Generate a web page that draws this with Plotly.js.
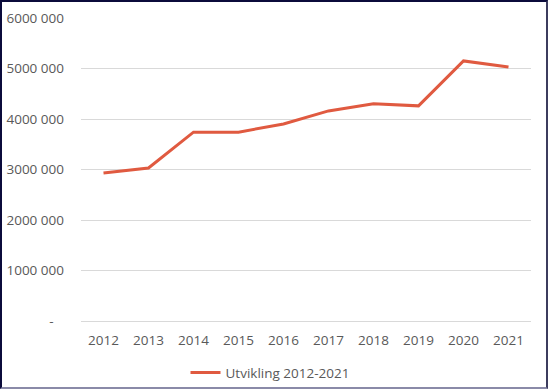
<!DOCTYPE html>
<html>
<head>
<meta charset="utf-8">
<script src="https://cdn.plot.ly/plotly-3.0.1.min.js"></script>
<style>
html,body{margin:0;padding:0;background:#fff;}
#chart{position:absolute;left:0;top:0;width:548px;height:389px;}
#frame{position:absolute;left:0;top:0;width:548px;height:389px;box-sizing:border-box;pointer-events:none;z-index:10;
border-top:2px solid #0b0b3b;border-left:2px solid #0b0b3b;border-right:2px solid #3c3c5e;border-bottom:2px solid #8a8aa8;}
</style>
</head>
<body>
<div id="chart"></div>
<div id="frame"></div>
<script>
const years = ["2012","2013","2014","2015","2016","2017","2018","2019","2020","2021"];
const values = [2930000,3030000,3740000,3740000,3900000,4160000,4300000,4260000,5150000,5030000];
const seriesName = "Utvikling 2012-2021";
const yTickVals = [0,1000000,2000000,3000000,4000000,5000000,6000000];
const yTickText = ["-\u00a0\u00a0\u00a0","1000 000","2000 000","3000 000","4000 000","5000 000","6000 000"];

const trace = {
  x: years, y: values, type: "scatter", mode: "lines", name: seriesName,
  line: {color: "#e05a40", width: 3}
};
const layout = {
  width: 548, height: 389,
  margin: {l: 81, r: 17, t: 18, b: 68, autoexpand: false},
  paper_bgcolor: "#ffffff", plot_bgcolor: "#ffffff",
  font: {family: "Open Sans, Liberation Sans, sans-serif", size: 13.5, color: "#595959"},
  showlegend: true,
  legend: {orientation: "h", x: 0.42, xanchor: "center", yref: "container", y: 0.082, yanchor: "top",
    font: {size: 13.5, color: "#595959"}},
  xaxis: {type: "category", range: [-0.5, 9.5], showgrid: false, zeroline: false, automargin: false,
    showline: false, ticks: "", ticklabelstandoff: 9, tickfont: {size: 13.5, color: "#595959"}, fixedrange: true},
  yaxis: {range: [0, 6000000], tickvals: yTickVals, ticktext: yTickText, automargin: false,
    showgrid: true, gridcolor: "#d9d9d9", gridwidth: 1, zeroline: true, zerolinecolor: "#d9d9d9",
    zerolinewidth: 1, showline: false, ticks: "", ticklabelstandoff: 16,
    tickfont: {size: 13.5, color: "#595959"}, fixedrange: true}
};
Plotly.newPlot("chart", [trace], layout, {displayModeBar: false, staticPlot: true});
</script>
</body>
</html>
